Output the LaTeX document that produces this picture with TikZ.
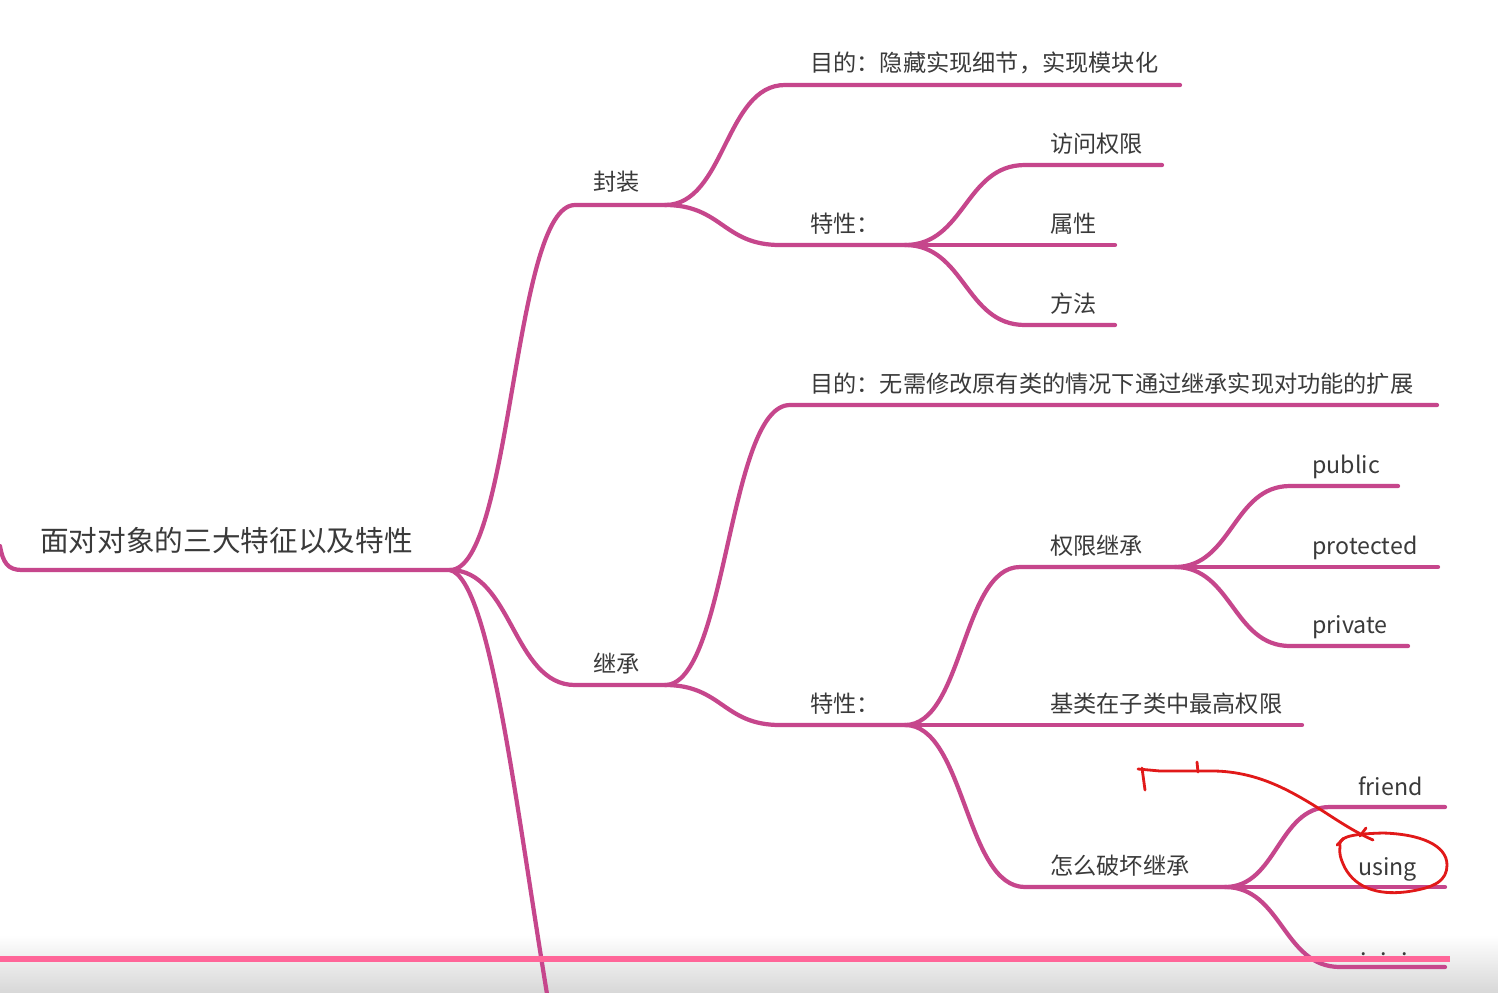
\documentclass[tikz,border=0pt]{standalone}
\usepackage{fontspec}
\newfontfamily\cjk{Noto Sans CJK SC}
\usetikzlibrary{calc}
\definecolor{mmpink}{RGB}{198,70,140}
\definecolor{txtgray}{RGB}{58,58,58}
\definecolor{barpink}{RGB}{255,102,153}
\definecolor{inkred}{RGB}{225,25,25}
\definecolor{bandgray}{RGB}{216,216,216}
\tikzset{
  branch/.style={draw=mmpink, line width=2.4pt, line cap=round, line join=round},
  lbl/.style={anchor=base west, inner sep=0pt, text=txtgray, font=\cjk\fontsize{13.2}{15}\selectfont},
  rootlbl/.style={lbl, font=\cjk\fontsize{16.3}{19}\selectfont},
  ink/.style={draw=inkred, line width=1.6pt, line cap=round, line join=round},
}
\begin{document}
\begin{tikzpicture}[x=0.02cm, y=-0.02cm]
\useasboundingbox (0,0) rectangle (1498,992);
\fill[white] (0,0) rectangle (1498,992);
% grey band along the bottom edge
\shade[top color=white, bottom color=bandgray] (0,935) rectangle (1498,992);

% ---- fork points and line ends
\coordinate (rootL) at (0,546);
\coordinate (rootE) at (450,570);
\coordinate (fzS) at (575,205);   \coordinate (fzE) at (665,205);
\coordinate (jcS) at (575,685);   \coordinate (jcE) at (665,685);
\coordinate (thirdE) at (548,1000);
\coordinate (fgS) at (785,85);    \coordinate (fgE) at (1180,85);
\coordinate (ffS) at (780,245);   \coordinate (ffE) at (905,245);
\coordinate (acS) at (1025,165);  \coordinate (acE) at (1162,165);
\coordinate (atE) at (1115,245);
\coordinate (meS) at (1025,325);  \coordinate (meE) at (1115,325);
\coordinate (jgS) at (790,405);   \coordinate (jgE) at (1437,405);
\coordinate (jfS) at (780,725);   \coordinate (jfE) at (905,725);
\coordinate (peS) at (1020,567);  \coordinate (peE) at (1175,567);
\coordinate (baE) at (1302,725);
\coordinate (brS) at (1025,887);  \coordinate (brE) at (1225,887);
\coordinate (puS) at (1290,486);  \coordinate (puE) at (1398,486);
\coordinate (prE) at (1438,567);
\coordinate (pvS) at (1290,646);  \coordinate (pvE) at (1408,646);
\coordinate (frS) at (1330,807);  \coordinate (frE) at (1445,807);
\coordinate (usE) at (1445,887);
\coordinate (dtS) at (1340,967);  \coordinate (dtE) at (1445,967);

% ---- labels
\node[rootlbl] (root) at (40,551) {面对对象的三大特征以及特性};
\node[lbl] (fz) at (593,190) {封装};
\node[lbl] (jc) at (593,672) {继承};
\node[lbl] (fgoal) at (810,71) {目的：隐藏实现细节，实现模块化};
\node[lbl] (ffeat) at (810,232) {特性：};
\node[lbl] (acc) at (1050,152) {访问权限};
\node[lbl] (attr) at (1050,232) {属性};
\node[lbl] (meth) at (1050,312) {方法};
\node[lbl] (jgoal) at (810,392) {目的：无需修改原有类的情况下通过继承实现对功能的扩展};
\node[lbl] (jfeat) at (810,712) {特性：};
\node[lbl] (perm) at (1050,554) {权限继承};
\node[lbl] (pub) at (1312,473) {public};
\node[lbl] (prot) at (1312,554) {protected};
\node[lbl] (priv) at (1312,633) {private};
\node[lbl] (base) at (1050,712) {基类在子类中最高权限};
\node[lbl] (brk) at (1050,874) {怎么破坏继承};
\node[lbl] (fr) at (1358,795) {friend};
\node[lbl] (us) at (1358,875) {using};
\node[lbl] (dots) at (1360,955) {.\hspace{0.6em}.\hspace{0.6em}.};

% ---- branches
\draw[branch] (rootL) .. controls (3,563) and (8,570) .. (22,570) -- (rootE);
\draw[branch] (rootE) .. controls +(62,0) and +(-62,0) .. (fzS) -- (fzE);
\draw[branch] (rootE) .. controls +(62,0) and +(-62,0) .. (jcS) -- (jcE);
\draw[branch] (rootE) .. controls +(40,10) and +(-33,-200) .. (thirdE);

\draw[branch] (fzE) .. controls +(60,0) and +(-60,0) .. (fgS) -- (fgE);
\draw[branch] (fzE) .. controls +(57,0) and +(-57,0) .. (ffS) -- (ffE);
\draw[branch] (ffE) .. controls +(60,0) and +(-60,0) .. (acS) -- (acE);
\draw[branch] (ffE) -- (atE);
\draw[branch] (ffE) .. controls +(60,0) and +(-60,0) .. (meS) -- (meE);

\draw[branch] (jcE) .. controls +(62,0) and +(-62,0) .. (jgS) -- (jgE);
\draw[branch] (jcE) .. controls +(57,0) and +(-57,0) .. (jfS) -- (jfE);
\draw[branch] (jfE) .. controls +(58,0) and +(-58,0) .. (peS) -- (peE);
\draw[branch] (jfE) -- (baE);
\draw[branch] (jfE) .. controls +(60,0) and +(-60,0) .. (brS) -- (brE);

\draw[branch] (peE) .. controls +(57,0) and +(-57,0) .. (puS) -- (puE);
\draw[branch] (peE) -- (prE);
\draw[branch] (peE) .. controls +(57,0) and +(-57,0) .. (pvS) -- (pvE);

\draw[branch] (brE) .. controls +(52,0) and +(-52,0) .. (frS) -- (frE);
\draw[branch] (brE) -- (usE);
\draw[branch] (brE) .. controls +(57,0) and +(-57,0) .. (dtS) -- (dtE);

% ---- pink rule across the bottom
\fill[barpink] (0,955.5) rectangle (1450,961.5);

% ---- hand-drawn red marks
\draw[ink] (1340,847) .. controls (1338,838) and (1346,834) .. (1383,833)
  .. controls (1420,834) and (1447,845) .. (1447,865)
  .. controls (1447,880) and (1436,888) .. (1405,892)
  .. controls (1378,895) and (1356,888) .. (1345,868)
  .. controls (1340,858) and (1339,852) .. (1340,847);
\draw[ink] (1337,845) -- (1344,838);
\draw[ink] (1373,840) .. controls (1350,830) and (1330,815) .. (1310,803)
  .. controls (1285,788) and (1255,772) .. (1215,771)
  -- (1160,771) -- (1138,769);
\draw[ink] (1142,768) -- (1145,790);
\draw[ink] (1197,762) -- (1198,772);
\draw[ink] (1360,836) -- (1366,828);
\end{tikzpicture}
\end{document}
